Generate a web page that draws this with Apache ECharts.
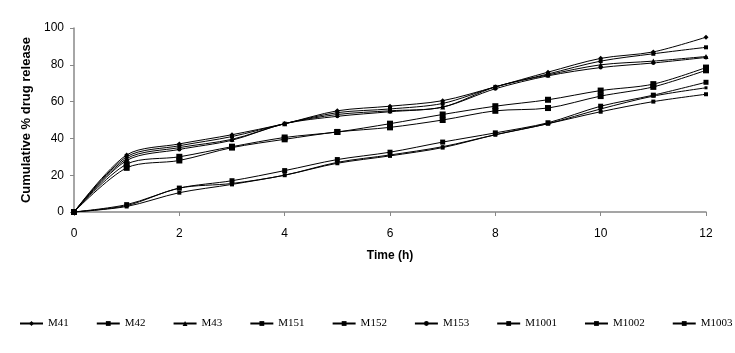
<!DOCTYPE html>
<html>
<head>
<meta charset="utf-8">
<script src="https://cdn.jsdelivr.net/npm/echarts@6/dist/echarts.min.js"></script>
<style>
  html, body { margin: 0; padding: 0; background: #fff; }
  #chart { width: 735px; height: 353px; }
</style>
</head>
<body>
<div id="chart"></div>
<script>
// time points (h)
const hours = [0, 1, 2, 3, 4, 5, 6, 7, 8, 9, 10, 11, 12];

// cumulative % drug release
const m41 = [0, 31, 37, 42, 48, 55, 57.5, 60.5, 68, 76, 83.5, 87, 95];
const m42 = [0, 30, 36, 41, 48, 54, 56, 59, 68, 75, 82, 86, 89.5];
const m43 = [0, 29, 35, 39.5, 48, 53, 55, 57, 68, 74.5, 80, 82, 84.5];
const m151 = [0, 26, 30, 35.5, 40.5, 43.5, 48, 53, 57.5, 61, 66, 69.5, 78.5];
const m152 = [0, 24, 28, 35, 39.5, 43.5, 46, 50, 55, 56.5, 63, 68, 77];
const m153 = [0, 28, 34, 39, 48, 52, 54.5, 57, 67, 74, 78.5, 81, 84];
const m1001 = [0, 4, 13, 17, 22.5, 28.5, 32.5, 38, 43, 48.5, 57.5, 63.5, 70.5];
const m1002 = [0, 3.5, 13, 15.5, 20, 27, 31, 35.5, 42, 48, 56, 63, 67.5];
const m1003 = [0, 3, 10.5, 15, 20, 26.5, 30.5, 35, 42, 48, 54.5, 60, 64];

const xTicks = [0, 2, 4, 6, 8, 10, 12];
const yTicks = [0, 20, 40, 60, 80, 100];

const myChart = echarts.init(document.getElementById("chart"));

function mk(name, data, symbol, size) {
  return {
    name: name,
    type: "line",
    smooth: 0.3,
    data: hours.map((h, i) => [h, data[i]]),
    symbol: symbol,
    symbolSize: size,
    color: "#000",
    lineStyle: { color: "#000", width: 1 },
    itemStyle: { color: "#000" },
  };
}

const option = {
  animation: false,
  backgroundColor: "#fff",
  grid: {
    left: 74,
    right: 29,
    top: 28,
    bottom: 141,
  },
  legend: {
    top: 313,
    left: 14,
    width: 721,
    itemWidth: 23,
    itemHeight: 6,
    itemGap: 27,
    textStyle: {
      fontFamily: "Liberation Serif",
      fontSize: 11,
      color: "#000",
    },
    data: ["M41", "M42", "M43", "M151", "M152", "M153", "M1001", "M1002", "M1003"],
  },
  xAxis: {
    type: "value",
    min: 0,
    max: 12,
    interval: 2,
    name: "Time (h)",
    nameLocation: "middle",
    nameGap: 38,
    nameTextStyle: {
      fontFamily: "Liberation Sans",
      fontWeight: "bold",
      fontSize: 12,
      color: "#000",
    },
    axisLine: { lineStyle: { color: "#888", width: 1.5 } },
    axisTick: { show: true, inside: false, length: 4, lineStyle: { color: "#888" } },
    axisLabel: {
      fontFamily: "Liberation Sans",
      fontSize: 12,
      color: "#000",
      margin: 16,
      formatter: (v) => (xTicks.includes(v) ? String(v) : ""),
    },
    splitLine: { show: false },
  },
  yAxis: {
    type: "value",
    min: 0,
    max: 100,
    interval: 20,
    name: "Cumulative % drug release",
    nameLocation: "middle",
    nameGap: 37,
    nameTextStyle: {
      fontFamily: "Liberation Sans",
      fontWeight: "bold",
      fontSize: 13,
      color: "#000",
    },
    axisLine: { show: true, lineStyle: { color: "#888", width: 1.5 } },
    axisTick: { show: true, inside: false, length: 4, lineStyle: { color: "#888" } },
    axisLabel: {
      fontFamily: "Liberation Sans",
      fontSize: 12,
      color: "#000",
      margin: 10,
      formatter: (v) => (yTicks.includes(v) ? String(v) : ""),
    },
    splitLine: { show: false },
  },
  series: [
    mk("M41", m41, "diamond", 5),
    mk("M42", m42, "rect", 4),
    mk("M43", m43, "triangle", 5),
    mk("M151", m151, "rect", 6),
    mk("M152", m152, "rect", 6),
    mk("M153", m153, "circle", 4),
    mk("M1001", m1001, "rect", 5),
    mk("M1002", m1002, "rect", 3),
    mk("M1003", m1003, "rect", 4),
  ],
};

myChart.setOption(option);
</script>
</body>
</html>
